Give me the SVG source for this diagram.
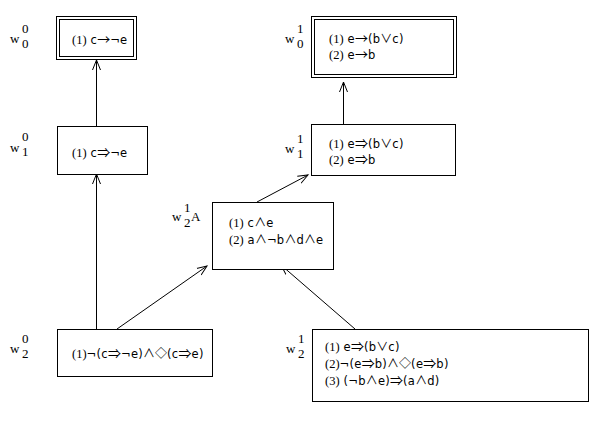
<svg xmlns="http://www.w3.org/2000/svg" width="616" height="424" viewBox="0 0 616 424">
<defs>
<style>
.box{fill:#fff;stroke:#000;stroke-width:1}
.t{font-family:"DejaVu Sans","Liberation Sans",sans-serif;font-size:11.5px;letter-spacing:0.3px;fill:#000}
.n{font-family:"Liberation Serif",serif;font-size:12.5px;letter-spacing:0}
.s{font-family:"Noto Sans CJK JP","DejaVu Sans",sans-serif;font-size:12px;letter-spacing:0}
.a{font-family:"Noto Sans CJK JP","DejaVu Sans",sans-serif;font-size:13px;letter-spacing:0}
.lbl{font-family:"Liberation Serif",serif;font-size:13px;fill:#000}
.sm{font-family:"Liberation Serif",serif;font-size:13px;fill:#000}
.c{stroke:#000;stroke-width:1;fill:none}
</style>
<marker id="ah" markerWidth="12" markerHeight="12" refX="10" refY="6" orient="auto" markerUnits="userSpaceOnUse">
<path d="M0,2 L10,6 L0,10" fill="none" stroke="#000" stroke-width="1"/>
</marker>
</defs>
<rect width="616" height="424" fill="#fff"/>
<g id="connectors">
<line class="c" x1="96.5" y1="126" x2="96.5" y2="60" marker-end="url(#ah)"/>
<line class="c" x1="96.5" y1="329" x2="96.5" y2="174" marker-end="url(#ah)"/>
<line class="c" x1="117" y1="329" x2="207" y2="266" marker-end="url(#ah)"/>
<line class="c" x1="355" y1="329" x2="281" y2="265" marker-end="url(#ah)"/>
<line class="c" x1="257" y1="202" x2="308" y2="175" marker-end="url(#ah)"/>
<line class="c" x1="343.5" y1="124" x2="343.5" y2="82" marker-end="url(#ah)"/>
</g>
<g id="w00">
<rect class="box" x="56.5" y="16.5" width="80" height="43"/>
<rect class="box" x="59.5" y="19.5" width="74" height="37"/>
<text class="t" x="72" y="44"><tspan class="n">(1)</tspan> c<tspan class="a">→</tspan>¬e</text>
<text class="lbl" x="10" y="43">w</text><text class="sm" x="22" y="33">0</text><text class="sm" x="22" y="48">0</text>
</g>
<g id="w01">
<rect class="box" x="311.5" y="16.5" width="145" height="61"/>
<rect class="box" x="314.5" y="19.5" width="139" height="55"/>
<text class="t" x="329" y="43"><tspan class="n">(1)</tspan> e<tspan class="a">→</tspan>(b<tspan class="s">∨</tspan>c)</text>
<text class="t" x="329" y="59"><tspan class="n">(2)</tspan> e<tspan class="a">→</tspan>b</text>
<text class="lbl" x="285" y="43">w</text><text class="sm" x="297" y="33">1</text><text class="sm" x="297" y="48">0</text>
</g>
<g id="w10">
<rect class="box" x="57.5" y="126.5" width="90" height="48"/>
<text class="t" x="72" y="157"><tspan class="n">(1)</tspan> c<tspan class="a">⇒</tspan>¬e</text>
<text class="lbl" x="10" y="152">w</text><text class="sm" x="22" y="141">0</text><text class="sm" x="22" y="156">1</text>
</g>
<g id="w11">
<rect class="box" x="311.5" y="124.5" width="144" height="51"/>
<text class="t" x="329" y="148"><tspan class="n">(1)</tspan> e<tspan class="a">⇒</tspan>(b<tspan class="s">∨</tspan>c)</text>
<text class="t" x="329" y="164"><tspan class="n">(2)</tspan> e<tspan class="a">⇒</tspan>b</text>
<text class="lbl" x="285" y="153">w</text><text class="sm" x="297" y="143">1</text><text class="sm" x="297" y="158">1</text>
</g>
<g id="w21A">
<rect class="box" x="212.5" y="202.5" width="121" height="67"/>
<text class="t" x="229" y="227"><tspan class="n">(1)</tspan> c<tspan class="s">∧</tspan>e</text>
<text class="t" x="229" y="244"><tspan class="n">(2)</tspan> a<tspan class="s">∧</tspan>¬b<tspan class="s">∧</tspan>d<tspan class="s">∧</tspan>e</text>
<text class="lbl" x="172" y="221">w</text><text class="sm" x="184" y="212">1</text><text class="sm" x="184" y="227">2</text><text class="lbl" x="191" y="221">A</text>
</g>
<g id="w20">
<rect class="box" x="57.5" y="329.5" width="155" height="47"/>
<text class="t" x="72" y="358"><tspan class="n">(1)</tspan>¬(c<tspan class="a">⇒</tspan>¬e)<tspan class="s">∧◇</tspan>(c<tspan class="a">⇒</tspan>e)</text>
<text class="lbl" x="10" y="353">w</text><text class="sm" x="22" y="343">0</text><text class="sm" x="22" y="358">2</text>
</g>
<g id="w21">
<rect class="box" x="312.5" y="329.5" width="276" height="72"/>
<text class="t" x="325" y="351"><tspan class="n">(1)</tspan> e<tspan class="a">⇒</tspan>(b<tspan class="s">∨</tspan>c)</text>
<text class="t" x="325" y="368"><tspan class="n">(2)</tspan>¬(e<tspan class="a">⇒</tspan>b)<tspan class="s">∧◇</tspan>(e<tspan class="a">⇒</tspan>b)</text>
<text class="t" x="325" y="385"><tspan class="n">(3)</tspan> (¬b<tspan class="s">∧</tspan>e)<tspan class="a">⇒</tspan>(a<tspan class="s">∧</tspan>d)</text>
<text class="lbl" x="286" y="353">w</text><text class="sm" x="298" y="343">1</text><text class="sm" x="298" y="358">2</text>
</g>
</svg>
